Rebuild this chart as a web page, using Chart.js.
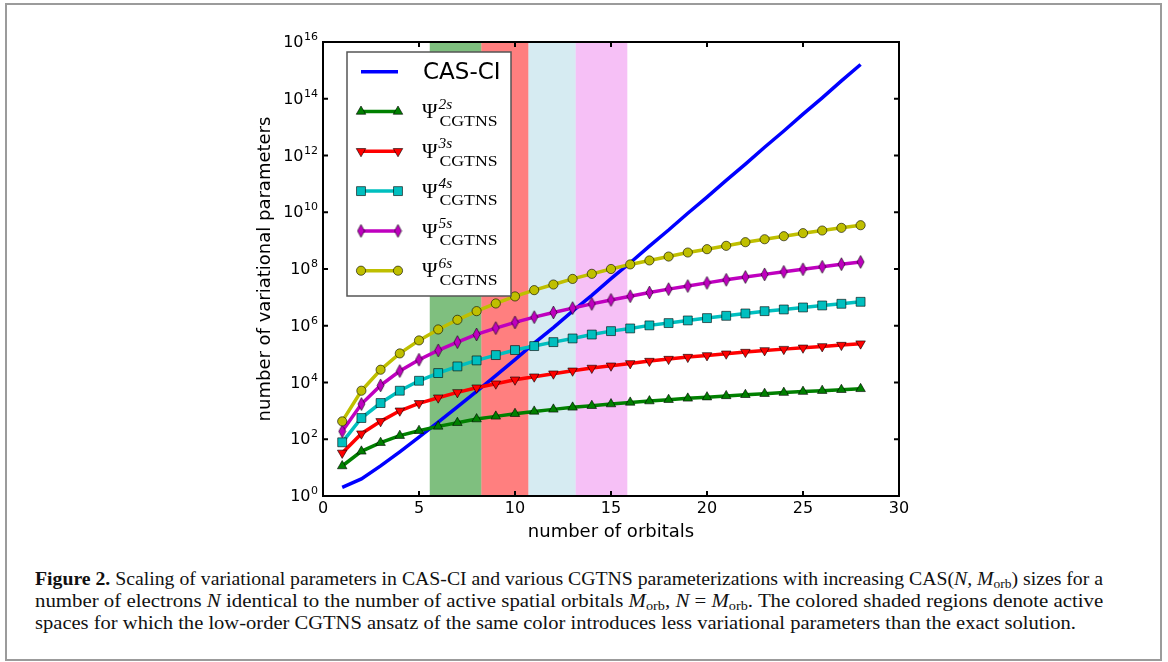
<!DOCTYPE html>
<html>
<head>
<meta charset="utf-8">
<script src="https://cdn.jsdelivr.net/npm/chart.js"></script>
<style>
  body { margin: 0; background: #fff; width: 1168px; height: 662px; position: relative; overflow: hidden; }
  #frame { position: absolute; left: 5px; top: 3px; width: 1153px; height: 654px; border: 2px solid #9b9b9b; }
  #chart { position: absolute; left: 0; top: 0; }
  .cap { position: absolute; left: 35px; font-family: 'Liberation Serif', serif; font-size: 19px; line-height: 22px;
         white-space: nowrap; transform-origin: 0 0; color: #111; }
  .cap sub { font-size: 13px; vertical-align: -3px; line-height: 0; }
</style>
</head>
<body>
<div id="frame"></div>
<canvas id="chart" width="1168" height="560"></canvas>
<div class="cap" style="top:568px" data-w="1068"><b>Figure 2.</b> Scaling of variational parameters in CAS-CI and various CGTNS parameterizations with increasing CAS(<i>N</i>, <i>M</i><sub>orb</sub>) sizes for a</div>
<div class="cap" style="top:590px" data-w="1068">number of electrons <i>N</i> identical to the number of active spatial orbitals <i>M</i><sub>orb</sub>, <i>N</i> = <i>M</i><sub>orb</sub>. The colored shaded regions denote active</div>
<div class="cap" style="top:612px" data-w="1041">spaces for which the low-order CGTNS ansatz of the same color introduces less variational parameters than the exact solution.</div>
<script>
// number of orbitals (x)
var orbitals = [1, 2, 3, 4, 5, 6, 7, 8, 9, 10, 11, 12, 13, 14, 15, 16, 17, 18, 19, 20, 21, 22, 23, 24, 25, 26, 27, 28];

// number of variational parameters
var casci = [2, 4, 11.5, 36, 118, 400, 1390, 4900, 17500, 63500, 2.43e5, 8.54e5, 3.29e6, 1.18e7, 4.56e7, 1.66e8,
             6.43e8, 2.36e9, 9.21e9, 3.41e10, 1.33e11, 4.98e11, 1.95e12, 7.31e12, 2.87e13, 1.08e14, 4.25e14, 1.61e15];
var cgtns2 = [11.4, 37.5, 75.7, 134, 200, 284, 383, 515, 640, 794, 959, 1130, 1330, 1520, 1740, 1990,
              2220, 2480, 2760, 3050, 3370, 3700, 4040, 4400, 4770, 5160, 5560, 5990];
var cgtns3 = [33, 157, 427, 1010, 1840, 2910, 4480, 6550, 9060, 12500, 16000, 20400, 25900, 32400, 38900, 47100,
              56900, 66800, 78500, 89900, 103000, 118000, 135000, 150000, 167000, 187000, 208000, 234000];
var cgtns4 = [78, 560, 1890, 5130, 11500, 21500, 36900, 60000, 92500, 139000, 192000, 265000, 357000, 490000, 647000, 804000,
              1030000, 1240000, 1540000, 1860000, 2240000, 2710000, 3270000, 3750000, 4410000, 5190000, 5940000, 6980000];
var cgtns5 = [190, 1740, 7910, 25300, 63400, 135000, 265000, 494000, 826000, 1310000, 2010000, 2940000, 4180000, 5890000, 8130000, 11000000,
              14800000, 19500000, 25100000, 32400000, 41700000, 52500000, 64600000, 79400000, 97700000, 120000000, 148000000, 178000000];
var cgtns6 = [427, 5130, 28200, 106000, 304000, 741000, 1620000, 3270000, 6100000, 10800000, 18000000, 28400000, 44700000, 67600000, 100000000, 145000000,
              200000000, 275000000, 381000000, 499000000, 655000000, 881000000, 1120000000, 1430000000, 1830000000, 2270000000, 2820000000, 3490000000];

// legend labels: base, superscript, subscript
var labelBase = ['CAS-CI', 'Ψ', 'Ψ', 'Ψ', 'Ψ', 'Ψ'];
var labelSup = ['', '2s', '3s', '4s', '5s', '6s'];
var labelSub = ['', 'CGTNS', 'CGTNS', 'CGTNS', 'CGTNS', 'CGTNS'];

// shaded active-space ranges (number of orbitals)
var spanFrom = [5.56, 8.25, 10.7, 13.16];
var spanTo = [8.25, 10.7, 13.16, 15.85];

// axis ticks (y labels are 10 raised to the exponent)
var xTicks = [0, 5, 10, 15, 20, 25, 30];
var yTickExps = [0, 2, 4, 6, 8, 10, 12, 14, 16];
var yTickBase = '10';

var spanColors = ['rgba(0,128,0,0.5)', 'rgba(255,0,0,0.5)', 'rgba(173,216,230,0.5)', 'rgba(238,130,238,0.5)'];

// thin diamond marker like matplotlib 'd'
function thinDiamond(fill) {
    var c = document.createElement('canvas');
    c.width = 9; c.height = 15;
    var g = c.getContext('2d');
    g.beginPath();
    g.moveTo(4.5, 1); g.lineTo(8, 7.5); g.lineTo(4.5, 14); g.lineTo(1, 7.5); g.closePath();
    g.fillStyle = fill; g.fill();
    g.lineWidth = 0.8; g.strokeStyle = 'rgba(0,0,0,0.75)'; g.stroke();
    return c;
}

function series(values, label, color, style, radius, rotation, order) {
    return {
        label: label,
        data: values.map(function (v, i) { return {x: orbitals[i], y: v}; }),
        borderColor: color,
        backgroundColor: color,
        borderWidth: 3.5,
        pointBackgroundColor: color,
        pointBorderColor: 'rgba(0,0,0,0.75)',
        pointBorderWidth: 0.8,
        pointStyle: style,
        pointRadius: radius,
        pointRotation: rotation,
        tension: 0,
        order: order
    };
}

var colors = ['#0000ff', '#008000', '#ff0000', '#00bfbf', '#bf00bf', '#bfbf00'];
var datasets = [
    series(casci, 'CAS-CI', colors[0], 'circle', 0, 0, 6),
    series(cgtns2, 'Ψ2s CGTNS', colors[1], 'triangle', 5.5, 0, 5),
    series(cgtns3, 'Ψ3s CGTNS', colors[2], 'triangle', 5.5, 180, 4),
    series(cgtns4, 'Ψ4s CGTNS', colors[3], 'rect', 6.3, 0, 3),
    series(cgtns5, 'Ψ5s CGTNS', colors[4], thinDiamond(colors[4]), 6, 0, 2),
    series(cgtns6, 'Ψ6s CGTNS', colors[5], 'circle', 4.6, 0, 1)
];

function stretchedText(ctx, text, x, y, sx) {
    ctx.save();
    ctx.translate(x, y);
    ctx.scale(sx, 1);
    ctx.fillText(text, 0, 0);
    ctx.restore();
}

var figureDecor = {
    id: 'figureDecor',
    beforeDatasetsDraw: function (chart) {
        var ctx = chart.ctx, a = chart.chartArea, x = chart.scales.x;
        ctx.save();
        spanFrom.forEach(function (v, i) {
            var x0 = x.getPixelForValue(v), x1 = x.getPixelForValue(spanTo[i]);
            ctx.fillStyle = spanColors[i];
            ctx.fillRect(x0, a.top, x1 - x0, a.bottom - a.top);
        });
        ctx.restore();
    },
    afterDatasetsDraw: function (chart) {
        var ctx = chart.ctx;
        ctx.save();
        // legend box
        var bx = 347, by = 52, bw = 164, bh = 244;
        ctx.fillStyle = '#fff';
        ctx.fillRect(bx, by, bw, bh);
        ctx.strokeStyle = '#555';
        ctx.lineWidth = 1.5;
        ctx.strokeRect(bx, by, bw, bh);
        chart.data.datasets.forEach(function (ds, i) {
            var cy = by + 19.7 + i * 39.8;
            ctx.strokeStyle = ds.borderColor;
            ctx.lineWidth = ds.borderWidth;
            ctx.beginPath();
            ctx.moveTo(361, cy); ctx.lineTo(398, cy);
            ctx.stroke();
            if (ds.pointRadius > 0) {
                ctx.fillStyle = ds.pointBackgroundColor;
                ctx.strokeStyle = ds.pointBorderColor;
                ctx.lineWidth = ds.pointBorderWidth;
                [361, 398].forEach(function (px) {
                    Chart.helpers.drawPoint(ctx, {pointStyle: ds.pointStyle, rotation: ds.pointRotation,
                        radius: ds.pointRadius, borderWidth: ds.pointBorderWidth}, px, cy);
                });
            }
            ctx.fillStyle = '#000';
            ctx.textAlign = 'left';
            if (!labelSup[i]) {
                ctx.font = '23px "DejaVu Sans"';
                ctx.textBaseline = 'middle';
                ctx.fillText(labelBase[i], 423, cy + 1);
            } else {
                ctx.textBaseline = 'alphabetic';
                ctx.font = '21px "Liberation Serif"';
                ctx.fillText(labelBase[i], 422, cy + 6.7);
                var w = ctx.measureText(labelBase[i]).width;
                ctx.font = 'italic 14px "Liberation Serif"';
                stretchedText(ctx, labelSup[i], 422 + w + 1, cy - 3, 1.1);
                ctx.font = '15px "Liberation Serif"';
                stretchedText(ctx, labelSub[i], 422 + w + 2, cy + 14.3, 1.18);
            }
        });
        ctx.restore();
    },
    afterDraw: function (chart) {
        var ctx = chart.ctx, a = chart.chartArea, x = chart.scales.x, y = chart.scales.y;
        ctx.save();
        ctx.strokeStyle = '#000';
        ctx.lineWidth = 2;
        ctx.strokeRect(a.left, a.top, a.right - a.left, a.bottom - a.top);
        ctx.beginPath();
        x.ticks.forEach(function (t) {
            var px = x.getPixelForValue(t.value);
            ctx.moveTo(px, a.bottom); ctx.lineTo(px, a.bottom - 5);
            ctx.moveTo(px, a.top); ctx.lineTo(px, a.top + 5);
        });
        y.ticks.forEach(function (t) {
            var py = y.getPixelForValue(t.value);
            ctx.moveTo(a.left, py); ctx.lineTo(a.left + 5, py);
            ctx.moveTo(a.right, py); ctx.lineTo(a.right - 5, py);
        });
        ctx.stroke();
        // y tick labels: 10 with a raised exponent
        ctx.fillStyle = '#000';
        ctx.textAlign = 'right';
        y.ticks.forEach(function (t, i) {
            var py = y.getPixelForValue(t.value);
            var exp = String(yTickExps[i]);
            var rx = a.left - 5;
            ctx.font = '11px "DejaVu Sans"';
            ctx.textBaseline = 'alphabetic';
            ctx.fillText(exp, rx, py - 2);
            var ew = ctx.measureText(exp).width;
            ctx.font = '16px "DejaVu Sans"';
            ctx.textBaseline = 'middle';
            ctx.fillText(yTickBase, rx - ew - 0.5, py + 1);
        });
        ctx.restore();
    }
};

Chart.defaults.font.family = '"DejaVu Sans", sans-serif';
Chart.defaults.color = '#000';

new Chart(document.getElementById('chart'), {
    type: 'line',
    data: {datasets: datasets},
    options: {
        responsive: false,
        animation: false,
        layout: {padding: {left: 250, top: 42, right: 269, bottom: 0}},
        plugins: {legend: {display: false}, tooltip: {enabled: false}},
        scales: {
            x: {
                type: 'linear', min: 0, max: 30,
                grid: {display: false, drawTicks: false},
                border: {display: false},
                afterBuildTicks: function (s) { s.ticks = xTicks.map(function (v) { return {value: v}; }); },
                afterFit: function (s) { s.height = 64; },
                ticks: {padding: 3, font: {size: 16}, maxRotation: 0, autoSkip: false},
                title: {display: true, text: 'number of orbitals', font: {size: 18}, padding: {top: 0, bottom: 17}}
            },
            y: {
                type: 'logarithmic', min: 1, max: 1e16,
                grid: {display: false, drawTicks: false},
                border: {display: false},
                afterBuildTicks: function (s) { s.ticks = yTickExps.map(function (e) { return {value: Math.pow(10, e)}; }); },
                afterFit: function (s) { s.width = 73; },
                ticks: {display: false},
                title: {display: true, text: 'number of variational parameters', font: {size: 18}, padding: {top: 5, bottom: 0}}
            }
        }
    },
    plugins: [figureDecor]
});

// fit caption lines to the measured widths
document.querySelectorAll('.cap').forEach(function (el) {
    var target = parseFloat(el.getAttribute('data-w'));
    el.style.transform = 'scaleX(' + (target / el.offsetWidth) + ')';
});
</script>
</body>
</html>
